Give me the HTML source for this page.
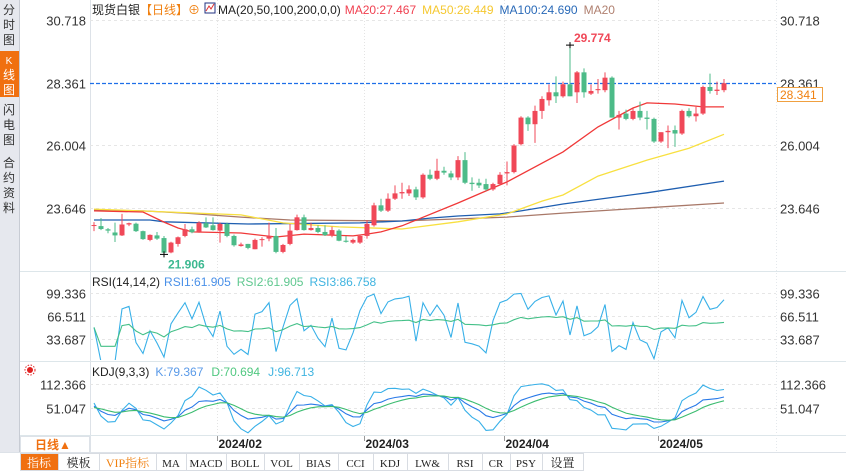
<!DOCTYPE html>
<html><head><meta charset="utf-8"><style>
html,body{margin:0;padding:0;background:#fff;width:846px;height:471px;overflow:hidden;font-family:"Liberation Sans","Noto Sans CJK SC",sans-serif}
svg{display:block}
</style></head><body>
<svg id="chart" width="846" height="471" viewBox="0 0 846 471" xmlns="http://www.w3.org/2000/svg" font-family="Liberation Sans, Noto Sans CJK SC, sans-serif">
<defs>
<clipPath id="clipMain"><rect x="90" y="0" width="686" height="270"/></clipPath>
<clipPath id="clipRsi"><rect x="90" y="272" width="686" height="88"/></clipPath>
<clipPath id="clipKdj"><rect x="90" y="362" width="686" height="73"/></clipPath>
</defs>
<rect x="0" y="0" width="19" height="452" fill="#e6e8ee"/>
<line x1="19.5" y1="0" x2="19.5" y2="452" stroke="#c8ccd4"/>
<g font-size="12" fill="#333" text-anchor="middle">
<text x="9" y="14">分</text><text x="9" y="29">时</text><text x="9" y="44">图</text></g>
<rect x="0" y="51" width="19" height="46" fill="#f07010"/>
<g font-size="12" fill="#fff" text-anchor="middle"><text x="9" y="64" font-size="10">K</text><text x="9" y="79">线</text><text x="9" y="94">图</text></g>
<g font-size="12" fill="#333" text-anchor="middle">
<text x="9" y="114">闪</text><text x="9" y="129">电</text><text x="9" y="144">图</text></g>
<g font-size="12" fill="#333" text-anchor="middle">
<text x="9" y="167">合</text><text x="9" y="182">约</text><text x="9" y="197">资</text><text x="9" y="212">料</text></g>
<line x1="90.5" y1="0" x2="90.5" y2="452" stroke="#dde2e8"/>
<line x1="20" y1="271.5" x2="846" y2="271.5" stroke="#dde6ea"/>
<line x1="20" y1="361.5" x2="846" y2="361.5" stroke="#dde6ea"/>
<line x1="20" y1="435.5" x2="846" y2="435.5" stroke="#dde6ea"/>
<line x1="776.5" y1="0" x2="776.5" y2="452" stroke="#e4e8ec" stroke-dasharray="1,2"/>
<g id="grid"></g>
<g id="mainG" clip-path="url(#clipMain)"></g>
<g id="rsiG" clip-path="url(#clipRsi)"></g>
<g id="kdjG" clip-path="url(#clipKdj)"></g>
<g id="axisG"></g>
<text x="92" y="14" font-size="12"><tspan fill="#222">现货白银</tspan><tspan fill="#f08010">【日线】</tspan><tspan fill="#f08010">⊕</tspan></text>
<rect x="205" y="3" width="10" height="10" fill="#fff" stroke="#203080"/>
<polyline points="206,11 209,6 211,9 214,4" fill="none" stroke="#e03030"/>
<text x="218" y="14" font-size="12"><tspan fill="#222">MA(20,50,100,200,0,0)</tspan><tspan fill="#f04050" dx="4">MA20:27.467</tspan><tspan fill="#f5c830" dx="6">MA50:26.449</tspan><tspan fill="#2a6ab8" dx="6">MA100:24.690</tspan><tspan fill="#b08070" dx="6">MA20</tspan></text>
<text x="92" y="286" font-size="12"><tspan fill="#222">RSI(14,14,2)</tspan><tspan fill="#4a90e8" dx="4">RSI1:61.905</tspan><tspan fill="#60c890" dx="6">RSI2:61.905</tspan><tspan fill="#40b4e0" dx="6">RSI3:86.758</tspan></text>
<text x="92" y="376" font-size="12"><tspan fill="#222">KDJ(9,3,3)</tspan><tspan fill="#5a9ae8" dx="6">K:79.367</tspan><tspan fill="#50c880" dx="8">D:70.694</tspan><tspan fill="#40b4e0" dx="8">J:96.713</tspan></text>
<g><circle cx="30" cy="370" r="3" fill="#e02020"/><circle cx="30" cy="370" r="5" fill="none" stroke="#e02020" stroke-dasharray="1.5,1.5"/></g>
<rect x="20.5" y="436.5" width="69" height="16" fill="#fff" stroke="#dde2e8"/>
<text x="35" y="449" font-size="12" fill="#f07010" font-weight="bold">日线▲</text>
<g id="toolbar"></g>
</svg>
<script>
const opens=[23.00,22.97,22.85,22.73,22.62,23.03,23.06,22.78,22.45,22.62,22.52,21.98,22.30,22.60,22.85,22.75,23.08,23.00,22.80,23.05,22.60,22.22,22.30,22.10,22.45,22.50,22.60,22.00,22.30,22.82,23.30,22.82,22.90,22.75,22.63,22.80,22.42,22.35,22.35,22.60,23.00,23.75,23.55,24.00,24.20,24.20,24.35,24.05,24.90,24.75,25.05,24.95,24.80,25.45,24.60,24.60,24.55,24.35,24.55,24.95,25.00,26.05,27.05,26.80,27.30,27.70,28.00,27.85,28.30,28.00,28.75,27.95,28.08,28.08,28.55,27.05,27.20,27.00,27.30,27.05,27.00,26.15,26.50,26.58,26.45,27.30,27.10,27.20,28.20,28.05,28.08];
const highs=[23.12,23.27,22.90,23.10,23.43,23.10,23.10,22.80,22.66,22.75,22.60,22.38,22.58,23.05,22.95,23.15,23.30,23.30,23.10,23.10,22.65,22.35,22.30,22.50,22.55,23.10,22.90,22.30,23.05,23.40,23.40,23.10,23.00,23.00,22.95,22.85,22.60,22.50,22.65,23.20,23.85,24.00,24.20,24.50,24.60,24.50,24.45,24.95,25.10,25.50,25.20,25.05,25.60,25.75,24.80,24.75,24.75,24.60,25.00,25.40,26.05,27.10,27.10,27.50,27.85,28.30,28.60,28.40,29.774,28.80,28.90,28.30,28.50,28.75,28.60,27.30,27.35,27.40,27.65,27.30,27.05,26.50,26.75,26.75,27.35,27.40,27.45,28.25,28.70,28.40,28.50];
const lows=[22.78,22.82,22.70,22.37,22.60,22.97,22.75,22.45,22.40,22.45,21.906,21.95,22.20,22.55,22.70,22.72,22.90,22.80,22.35,22.55,22.20,22.20,22.10,22.10,22.20,22.40,21.95,21.95,22.25,22.80,22.80,22.80,22.70,22.60,22.55,22.40,22.35,22.30,22.30,22.50,22.95,23.50,23.50,23.95,24.00,24.10,23.95,24.00,24.70,24.70,24.90,24.70,24.70,24.55,24.30,24.40,24.30,24.30,24.50,24.50,24.95,26.00,26.55,26.10,27.00,27.50,27.60,27.80,27.85,27.60,27.80,27.90,27.95,28.00,27.05,26.60,26.95,26.95,26.95,26.60,26.10,26.10,25.90,25.95,26.40,27.05,26.90,27.15,27.95,27.90,28.00];
const closes=[23.01,22.86,22.80,22.62,23.03,23.08,22.78,22.48,22.64,22.50,21.97,22.35,22.55,22.85,22.74,23.10,22.92,22.82,23.05,22.60,22.25,22.28,22.15,22.45,22.48,22.60,22.00,22.26,22.80,23.30,22.82,22.90,22.75,22.63,22.82,22.42,22.38,22.45,22.60,23.05,23.75,23.55,24.00,24.20,24.25,24.35,24.05,24.90,24.75,25.05,24.98,24.80,25.45,24.60,24.55,24.50,24.35,24.55,24.90,25.00,26.00,27.05,26.80,27.30,27.75,28.00,27.85,28.30,27.85,28.75,28.00,28.05,28.12,28.55,27.05,27.15,27.00,27.30,27.05,27.00,26.15,26.50,26.55,26.45,27.30,27.10,27.20,28.20,28.05,28.10,28.341];
const ma20Idx=[0,7,10,12,14,21,26,30,37,39,41,44,52,59,67,72,77,79,83,87,90];
const ma20Val=[23.54,23.50,23.12,22.90,22.75,22.71,22.56,22.67,22.60,22.67,22.75,22.98,23.84,24.63,25.76,26.70,27.41,27.60,27.56,27.45,27.45];
const ma50Idx=[0,21,27,35,44,52,59,64,67,72,79,85,90];
const ma50Val=[23.61,23.39,23.09,22.94,22.86,23.13,23.43,23.91,24.14,24.85,25.45,25.90,26.42];
const ma100Idx=[0,8,10,22,38,44,48,52,58,61,67,79,90];
const ma100Val=[23.20,23.20,23.13,23.05,23.09,23.16,23.27,23.35,23.43,23.54,23.80,24.22,24.66];
const ma200Idx=[0,7,13,21,28,44,52,59,67,90];
const ma200Val=[23.58,23.54,23.46,23.31,23.20,23.16,23.24,23.31,23.46,23.84];
const priceTicks=[30.718,28.361,26.004,23.646];
const rsiTicks=[99.336,66.511,33.687];
const kdjTicks=[112.366,51.047];
const monthLabels=['2024/02','2024/03','2024/04','2024/05'];
const monthIdx=[18,39,59,81];
const toolbarItems=['指标','模板','VIP指标','MA','MACD','BOLL','VOL','BIAS','CCI','KDJ','LW&','RSI','CR','PSY','设置'];

const NS='http://www.w3.org/2000/svg';
function mk(tag,attrs,parent){const e=document.createElementNS(NS,tag);for(const k in attrs)e.setAttribute(k,attrs[k]);parent.appendChild(e);return e;}
const xOf=i=>94+i*7;
const yP=p=>20+(30.718-p)*26.6;
const yR=v=>316-(v-66.511)*0.688;
const yK=v=>408-(v-51.047)*0.391;

const grid=document.getElementById('grid'),mainG=document.getElementById('mainG'),rsiG=document.getElementById('rsiG'),kdjG=document.getElementById('kdjG'),axisG=document.getElementById('axisG');
priceTicks.forEach((t,k)=>{
 const y=Math.round(yP(t))+0.5;
 const l=mk('line',{x1:90,y1:y,x2:776,y2:y,stroke:'#e6e6e6','stroke-dasharray':'3,3'},grid);
 
 
 const a=mk('text',{x:86,y:y+5,'text-anchor':'end','font-size':13,fill:'#333'},axisG);a.textContent=t.toFixed(3);
 
 
 const b=mk('text',{x:780,y:y+5,'font-size':13,fill:'#333'},axisG);b.textContent=t.toFixed(3);
 
 
});
rsiTicks.forEach(t=>{
 const y=Math.round(yR(t))+0.5;
 mk('line',{x1:90,y1:y,x2:776,y2:y,stroke:'#e6e6e6','stroke-dasharray':'3,3'},grid);
 const a=mk('text',{x:86,y:y+5,'text-anchor':'end','font-size':13,fill:'#333'},axisG);a.textContent=t.toFixed(3);
 
 
 const b=mk('text',{x:780,y:y+5,'font-size':13,fill:'#333'},axisG);b.textContent=t.toFixed(3);
 
 
});
kdjTicks.forEach(t=>{
 const y=Math.round(yK(t))+0.5;
 mk('line',{x1:90,y1:y,x2:776,y2:y,stroke:'#e6e6e6','stroke-dasharray':'3,3'},grid);
 const a=mk('text',{x:86,y:y+5,'text-anchor':'end','font-size':13,fill:'#333'},axisG);a.textContent=t.toFixed(3);
 
 
 const b=mk('text',{x:780,y:y+5,'font-size':13,fill:'#333'},axisG);b.textContent=t.toFixed(3);
 
 
});
monthIdx.forEach((mi,k)=>{
 const x=Math.round(xOf(mi)-3.5)+0.5;
 mk('line',{x1:x,y1:0,x2:x,y2:435,stroke:'#e4e4e4','stroke-dasharray':'1,2'},grid);
 mk('line',{x1:x,y1:436,x2:x,y2:441,stroke:'#999'},axisG);
 const t=mk('text',{x:x+1,y:448,'font-size':12,fill:'#222','font-weight':'bold'},axisG);t.textContent=monthLabels[k];
 
 
});
const lastY=Math.round(yP(28.361))+0.5;
const dl=mk('line',{x1:90,y1:lastY,x2:776,y2:lastY,stroke:'#1f6fe8','stroke-width':1.2,'stroke-dasharray':'4,2'},mainG);


function maLine(idx,val,color,name){
 const pts=idx.map((i,k)=>xOf(i)+','+yP(val[k]).toFixed(1)).join(' ');
 const pl=mk('polyline',{points:pts,fill:'none',stroke:color,'stroke-width':1.3},mainG);
 
 
}
maLine(ma200Idx,ma200Val,'#a87868','ma200-line');
maLine(ma100Idx,ma100Val,'#1e5eb0','ma100-line');
maLine(ma50Idx,ma50Val,'#f8e040','ma50-line');
maLine(ma20Idx,ma20Val,'#f03838','ma20-line');
closes.forEach((c,i)=>{
 const o=opens[i],h=highs[i],l=lows[i];
 const up=c>=o,col=up?'#f04858':'#4cbb88';
 const x=xOf(i);
 const w=mk('line',{x1:x,y1:yP(h),x2:x,y2:yP(l),stroke:col,'stroke-width':1},mainG);
 
 
 const top=yP(Math.max(o,c)),bot=yP(Math.min(o,c));
 const r=mk('rect',{x:x-2.5,y:top,width:5,height:Math.max(1,bot-top),fill:col},mainG);
 
 
});
let hiI=0,loI=0;highs.forEach((h,i)=>{if(h>highs[hiI])hiI=i;});lows.forEach((l,i)=>{if(l<lows[loI])loI=i;});
function cross(x,y){mk('line',{x1:x-4,y1:y,x2:x+4,y2:y,stroke:'#000'},mainG);mk('line',{x1:x,y1:y-3,x2:x,y2:y+3,stroke:'#000'},mainG);}
cross(xOf(hiI),yP(highs[hiI]));cross(xOf(loI),yP(lows[loI]));
const ht=mk('text',{x:xOf(hiI)+4,y:yP(highs[hiI])-3,'font-size':12,'font-weight':'bold',fill:'#f04858'},mainG);ht.textContent=highs[hiI].toFixed(3);


const lt=mk('text',{x:xOf(loI)+4,y:yP(lows[loI])+14,'font-size':12,'font-weight':'bold',fill:'#3cb890'},mainG);lt.textContent=lows[loI].toFixed(3);


const tag=mk('rect',{x:777.5,y:lastY+4,width:45,height:14,fill:'#fff',stroke:'#f0a040'},axisG);


const tt=mk('text',{x:780,y:lastY+15.5,'font-size':12,fill:'#f08010'},axisG);tt.textContent=closes[closes.length-1].toFixed(3);
function sma(arr,n,m){const out=[];let y=arr[0];arr.forEach((v,i)=>{y=i===0?v:(m*v+(n-m)*y)/n;out.push(y);});return out;}
function rsi(n){const up=[],ab=[];closes.forEach((c,i)=>{const d=i===0?0:c-closes[i-1];up.push(Math.max(d,0));ab.push(Math.abs(d));});
 const a=sma(up,n,1),b=sma(ab,n,1);return a.map((v,i)=>b[i]===0?50:v/b[i]*100);}
const rsi1=rsi(14).map(v=>v*0.55+22.5), rsi3=rsi(2);
function plot(vals,fy,color,g,name){const pts=vals.map((v,i)=>xOf(i)+','+fy(v).toFixed(1)).join(' ');
 const pl=mk('polyline',{points:pts,fill:'none',stroke:color,'stroke-width':1.1},g);
 
 }
plot(rsi3,yR,'#38b0e8',rsiG,'rsi3-line');
plot(rsi1,yR,'#44c088',rsiG,'rsi1-line');
const rsv=closes.map((c,i)=>{const s=Math.max(0,i-8);const hh=Math.max(...highs.slice(s,i+1)),ll=Math.min(...lows.slice(s,i+1));return hh===ll?50:(c-ll)/(hh-ll)*100;});
const K=[],D=[];let k=50,d=50;rsv.forEach(v=>{k=(v+2*k)/3;d=(k+2*d)/3;K.push(k);D.push(d);});
const J=K.map((v,i)=>3*v-2*D[i]);
plot(J,yK,'#38b0e8',kdjG,'kdj-j-line');
plot(K,yK,'#2a7ae8',kdjG,'kdj-k-line');
plot(D,yK,'#3cbc70',kdjG,'kdj-d-line');
const tb=document.getElementById('toolbar');
const bounds=[20,58,99,156,186,226,264,299,338,373,407,448,482,510,542,583];
mk('line',{x1:0,y1:452.5,x2:846,y2:452.5,stroke:'#dde2e8'},tb);
toolbarItems.forEach((t,i)=>{
 const x0=bounds[i],x1=bounds[i+1];
 const r=mk('rect',{x:x0+0.5,y:453.5,width:x1-x0,height:17,fill:i===0?'#f07010':'#fff',stroke:'#d8dce2'},tb);
 
 
 const tx=mk('text',{x:(x0+x1)/2,y:467,'text-anchor':'middle','font-size':i<3||i===14?12:11,fill:i===0?'#fff':(i===2?'#f08010':'#222'),'font-family':'Liberation Serif, Noto Serif CJK SC, serif'},tb);
 tx.textContent=t;
 
 
});
</script>
</body></html>
